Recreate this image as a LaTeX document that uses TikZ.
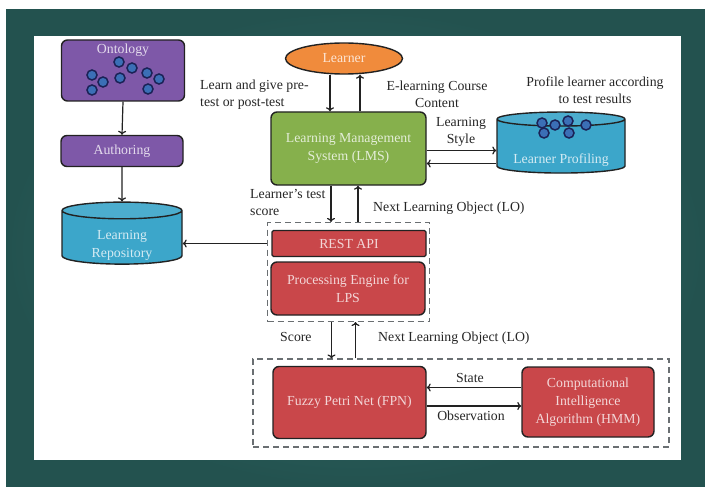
\documentclass[tikz,border=0pt]{standalone}
\usepackage{fontspec}
\setmainfont{Liberation Serif}
\usetikzlibrary{arrows.meta,positioning,calc,shapes.geometric}
\definecolor{tealbg}{HTML}{35716F}
\definecolor{tealdark}{HTML}{23524F}
\definecolor{ontpurple}{HTML}{7E58A8}
\definecolor{lmsgreen}{HTML}{86B04C}
\definecolor{learnorange}{HTML}{F08B3C}
\definecolor{storecyan}{HTML}{3CA6CA}
\definecolor{engred}{HTML}{C9474A}
\definecolor{dotnavy}{HTML}{1B2257}
\definecolor{dotblue}{HTML}{3B6FB6}
\definecolor{edgegray}{HTML}{222222}
\definecolor{dashgray}{HTML}{6A6F72}
\definecolor{inktext}{HTML}{262626}

\begin{document}
\begin{tikzpicture}[
    x=1pt, y=-1pt,
    box/.style={
      draw=edgegray, line width=1.4pt, rounded corners=6pt,
      fill=#1, text=white!78!#1, align=center,
      font=\fontsize{13.8}{18}\selectfont, inner sep=2pt,
    },
    boxtext/.style={
      text=white!78!#1, align=center,
      font=\fontsize{13.8}{18}\selectfont, inner sep=0pt,
    },
    store/.style={
      cylinder, shape border rotate=90, aspect=#1,
      draw=edgegray, line width=1.4pt,
      cylinder uses custom fill, cylinder body fill=storecyan,
      cylinder end fill=storecyan!92!white,
    },
    dot/.style={
      circle, draw=dotnavy, line width=1.5pt, fill=dotblue,
      minimum size=10pt, inner sep=0pt,
    },
    group/.style={
      draw=dashgray, line width=1.1pt, dash pattern=on 6pt off 4pt,
    },
    lbl/.style={
      text=inktext, align=center, inner sep=0pt,
      font=\fontsize{13.8}{17}\selectfont,
    },
    flow/.style={
      -{To[length=4pt,width=8pt]}, line width=1.2pt, edgegray,
    },
  ]
  \useasboundingbox (0,0) rectangle (705,487);

  % =================== Frame ===================
  \fill[white] (0,0) rectangle (705,487);
  \shade[inner color=tealbg, outer color=tealdark] (6,10) rectangle (705,487);
  \fill[white] (34,36) rectangle (681,460);

  % =================== Authoring side ===================
  \node[box=ontpurple, minimum width=123pt, minimum height=61pt] (onto) at (123,70.5) {};
  \node[boxtext=ontpurple] (ontotitle) at (123,50) {Ontology};
  \foreach \p [count=\i] in {(119,62),(132,68),(120,78),(92,75),(103,82),(92,90),(147,73),(159,79),(148,89)}
    \node[dot] (od\i) at \p {};

  \node[box=ontpurple, minimum width=122pt, minimum height=31pt] (auth) at (122,151) {Authoring};

  \node[store=2.5, minimum width=120pt, minimum height=62pt] (repo) at (122,239) {};
  \node[boxtext=storecyan] (repotext) at (122,245) {Learning\\Repository};

  \draw[flow] (onto.south) -- (auth.north);
  \draw[flow] (auth.south) -- (repo.north);

  % =================== Learner and LMS ===================
  \node[ellipse, draw=edgegray, line width=1.4pt, fill=learnorange, text=white!78!learnorange,
        font=\fontsize{13.8}{18}\selectfont, minimum width=117pt, minimum height=31pt] (learner) at (344,58.5) {Learner};
  \node[box=lmsgreen, minimum width=155pt, minimum height=73pt] (lms) at (348.5,148.5) {Learning Management\\System (LMS)};

  \draw[flow] ([xshift=-14pt]learner.south) -- ([xshift=-14pt]learner.south |- lms.north);
  \draw[flow] ([xshift=16pt]learner.south |- lms.north) -- ([xshift=16pt]learner.south);
  \node[lbl, align=left, anchor=west] (lbllearn) at (200,94.5) {Learn and give pre-\\test or post-test};
  \node[lbl] (lblcourse) at (437,94.5) {E-learning Course\\Content};

  % =================== Learner profiling ===================
  \node[store=2.1, minimum width=128pt, minimum height=61pt] (prof) at (561,147.5) {};
  \foreach \p [count=\i] in {(542,123),(555,125),(568,121),(586,125),(544,133),(569,133)}
    \node[dot] (pd\i) at \p {};
  \node[boxtext=storecyan] (proftext) at (561,160) {Learner Profiling};
  \node[lbl] (lblprofile) at (595,90) {Profile learner according\\to test results};

  \draw[flow] ([yshift=-2pt]lms.east) -- ([yshift=-2pt]lms.east -| prof.west);
  \draw[flow] ([yshift=-15pt]lms.east -| prof.west) -- ([yshift=-15pt]lms.east);
  \node[lbl] (lblstyle) at (461,132) {Learning\\Style};

  % =================== REST API and engine ===================
  \node[box=engred, rounded corners=1.5pt, minimum width=154pt, minimum height=26pt] (rest) at (349,243.5) {REST API};
  \node[box=engred, minimum width=154pt, minimum height=53pt] (engine) at (348,288.5) {Processing Engine for\\LPS};
  \node[group, minimum width=162pt, minimum height=99pt] (apigrp) at (348.5,272) {};

  \draw[flow] ([xshift=-17.5pt]lms.south) -- ([xshift=-17.5pt]lms.south |- apigrp.north);
  \draw[flow] ([xshift=9.5pt]lms.south |- apigrp.north) -- ([xshift=9.5pt]lms.south);
  \node[lbl, align=left, anchor=west] (lbltest) at (250,202) {Learner's test\\score};
  \node[lbl, anchor=west] (lblnext1) at (373,208) {Next Learning Object (LO)};

  \draw[flow] (rest.west -| apigrp.west) -- (rest.west -| repo.east);

  % =================== FPN and HMM ===================
  \node[box=engred, minimum width=153pt, minimum height=72pt] (fpn) at (349.5,402.5) {Fuzzy Petri Net (FPN)};
  \node[box=engred, minimum width=132pt, minimum height=70pt] (cia) at (588,402) {Computational\\Intelligence\\Algorithm (HMM)};
  \node[group, minimum width=416pt, minimum height=88pt] (fpngrp) at (461,403) {};

  \draw[flow] ([xshift=-17pt]apigrp.south) -- ([xshift=-17pt]apigrp.south |- fpngrp.north);
  \draw[flow] ([xshift=7pt]apigrp.south |- fpngrp.north) -- ([xshift=7pt]apigrp.south);
  \node[lbl, anchor=west] (lblscore) at (280,337) {Score};
  \node[lbl, anchor=west] (lblnext2) at (378,338) {Next Learning Object (LO)};

  \draw[flow] ([yshift=14.5pt]cia.west) -- ([yshift=14.5pt]cia.west -| fpn.east);
  \draw[flow] ([yshift=-3.5pt]fpn.east) -- ([yshift=-3.5pt]fpn.east -| cia.west);
  \node[lbl] (lblstate) at (470,378) {State};
  \node[lbl] (lblobs) at (471,416) {Observation};

\end{tikzpicture}
\end{document}
